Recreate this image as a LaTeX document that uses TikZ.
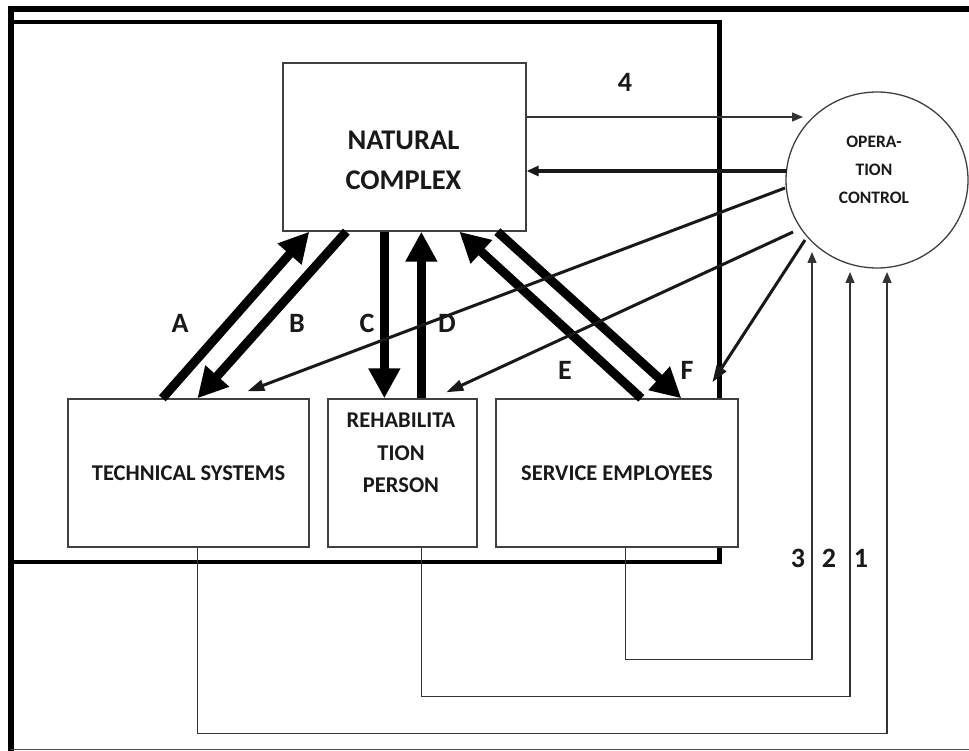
\documentclass[tikz,border=0pt]{standalone}
\usepackage{fontspec}
\setmainfont{Carlito}
\usetikzlibrary{arrows.meta,shapes.geometric,calc}
\begin{document}
\begin{tikzpicture}[x=1pt,y=-1pt,
  box/.style={draw=black!75,line width=1.3pt,fill=white,inner sep=0pt,
    font=\bfseries\fontsize{22.5}{26}\selectfont,text=black!90},
  txt/.style={inner sep=0pt,align=center,text=black!90},
  lbl/.style={inner sep=0pt,font=\bfseries\fontsize{28}{30}\selectfont,text=black!90},
  bigarrow/.style={line width=9pt,-{Triangle[length=30pt,width=30pt]}},
  midarrow/.style={line width=3pt,draw=black!90,-{Triangle[length=17pt,width=11pt]}},
  fbarrow/.style={line width=4pt,draw=black!90,-{Triangle[length=12pt,width=10pt]}},
  thinarrow/.style={line width=1.3pt,draw=black!80,-{Triangle[length=11pt,width=9pt]}},
  frame/.style={line width=6pt,line join=miter},
  innerframe/.style={line width=4.5pt,line join=miter}
]
\useasboundingbox (0,0) rectangle (969,751);
\fill[white] (0,0) rectangle (969,751);
% frames
\draw[frame] (969,9) -- (11,9) -- (11,751);
\draw[line width=1.5pt,draw=black!70] (11,749.5) -- (969,749.5);
\draw[innerframe] (14,22) -- (719.5,22) -- (719.5,562) -- (14,562);

% boxes
\node[box,minimum width=243pt,minimum height=168pt] (nat) at (404.5,147) {};
\node[txt,font=\bfseries\fontsize{28.5}{40}\selectfont] (natT) at (403.5,160.5) {NATURAL\\COMPLEX};
\node[box,minimum width=241pt,minimum height=148pt] (tech) at (188.5,473) {TECHNICAL SYSTEMS};
\node[box,minimum width=149pt,minimum height=148pt] (rehab) at (402.5,473) {};
\node[txt,font=\bfseries\fontsize{22.5}{32.5}\selectfont] (rehabT) at (401,453) {REHABILITA\\TION\\PERSON};
\node[box,minimum width=242pt,minimum height=148pt] (serv) at (617,473) {SERVICE EMPLOYEES};
\node[ellipse,draw=black!75,line width=1.3pt,fill=white,minimum width=182pt,minimum height=176pt,inner sep=0pt] (ctl) at (877,180) {};
\node[txt,font=\bfseries\fontsize{17.5}{28}\selectfont] (ctlT) at (874,170) {OPERA-\\TION\\CONTROL};

% points near the control circle
\coordinate (c4) at (803,117);
\coordinate (c5) at (787,171);
\coordinate (o1) at (785,188);
\coordinate (o2) at (793,232);
\coordinate (o3) at (805,240);
\coordinate (i3) at (812,252);
\coordinate (i2) at (850,272);
\coordinate (i1) at (887,272);

% thick arrows
\draw[bigarrow] ([xshift=95pt]tech.north west) -- ([xshift=27pt]nat.south west);
\draw[bigarrow] ([xshift=64pt]nat.south west) -- ([xshift=130pt]tech.north west);
\draw[bigarrow] ([xshift=102pt]nat.south west) -- ([xshift=57pt]rehab.north west);
\draw[bigarrow] ([xshift=94pt]rehab.north west) -- ([xshift=139pt]nat.south west);
\draw[bigarrow] ([xshift=146pt]serv.north west) -- ([xshift=177pt]nat.south west);
\draw[bigarrow] ([xshift=215pt]nat.south west) -- ([xshift=186pt]serv.north west);

% control connections
\draw[thinarrow] (nat.east |- c4) -- (c4);
\draw[fbarrow] (c5) -- (nat.east |- c5);
\draw[midarrow] (o1) -- ([xshift=180pt,yshift=7pt]tech.north west);
\draw[midarrow] (o2) -- ([xshift=119pt,yshift=6pt]rehab.north west);
\draw[midarrow] (o3) -- ([xshift=217pt,yshift=16pt]serv.north west);

% feedback lines
\draw[thinarrow] ([xshift=130pt]tech.south west) -- ++(0,186) -| (i1);
\draw[thinarrow] ([xshift=94pt]rehab.south west) -- ++(0,149) -| (i2);
\draw[thinarrow] ([xshift=130pt]serv.south west) -- ++(0,112) -| (i3);

% labels
\node[lbl] (lA) at (180,323) {A};
\node[lbl] (lB) at (297,323) {B};
\node[lbl] (lC) at (367,323) {C};
\node[lbl] (lD) at (447,323) {D};
\node[lbl] (lE) at (565,370) {E};
\node[lbl] (lF) at (687,370) {F};
\node[lbl] (l4) at (625,82) {4};
\node[lbl] (l3) at (798,558) {3};
\node[lbl] (l2) at (829,558) {2};
\node[lbl] (l1) at (861,558) {1};
\end{tikzpicture}
\end{document}
